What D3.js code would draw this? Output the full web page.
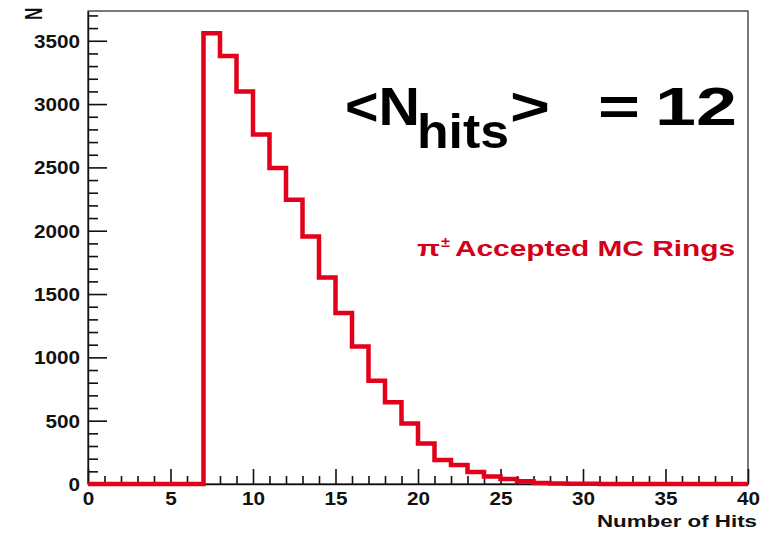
<!DOCTYPE html>
<html>
<head>
<meta charset="utf-8">
<script src="https://cdn.jsdelivr.net/npm/d3@7"></script>
<style>
  body { margin: 0; background: #fff; }
  svg { display: block; }
  text { font-family: "Liberation Sans", Arial, Helvetica, sans-serif; font-weight: bold; }
</style>
</head>
<body>
<svg id="chart" width="765" height="533"></svg>
<script>
// Hit multiplicity of accepted MC rings: one count per unit-wide bin, 0..40
const binStart = 0;
const binWidth = 1;
const counts = [
  0, 0, 0, 0, 0, 0, 0, 3560, 3380, 3100,
  2760, 2495, 2245, 1955, 1630, 1350, 1085, 815, 645, 478,
  320, 190, 150, 95, 60, 40, 22, 8, 4, 2,
  1, 0, 0, 0, 0, 0, 0, 0, 0, 0
];
const xMajorTicks = [0, 5, 10, 15, 20, 25, 30, 35, 40];
const yMajorTicks = [0, 500, 1000, 1500, 2000, 2500, 3000, 3500];
const yMax = 3735;
const meanHits = 12;

const svg = d3.select("#chart");
const frame = { left: 88, right: 748, top: 11, bottom: 484 };

const x = d3.scaleLinear().domain([0, 40]).range([frame.left, frame.right]);
const y = d3.scaleLinear().domain([0, yMax]).range([frame.bottom, frame.top]);

svg.append("rect").attr("width", 765).attr("height", 533).attr("fill", "#fff");

// Frame
svg.append("rect")
  .attr("x", frame.left).attr("y", frame.top)
  .attr("width", frame.right - frame.left).attr("height", frame.bottom - frame.top)
  .attr("fill", "none").attr("stroke", "#222").attr("stroke-width", 1.2);

// Minor tick positions
const xMinor = d3.range(0, 41).filter(v => v % 5 !== 0);
const yMinor = d3.range(0, yMax, 100).filter(v => v % 500 !== 0);

// Y axis: ticks pointing into the frame
const yAxisG = svg.append("g").attr("transform", `translate(${frame.left},0)`);
yAxisG.call(d3.axisLeft(y).tickValues(yMajorTicks).tickFormat(d3.format("d"))
  .tickSize(-19).tickSizeOuter(0).tickPadding(7));
const yMinorG = svg.append("g").attr("transform", `translate(${frame.left},0)`);
yMinorG.call(d3.axisLeft(y).tickValues(yMinor).tickSize(-10).tickSizeOuter(0).tickFormat(""));
yMinorG.select(".domain").remove();

// X axis
const xAxisG = svg.append("g").attr("transform", `translate(0,${frame.bottom})`);
xAxisG.call(d3.axisBottom(x).tickValues(xMajorTicks).tickFormat(d3.format("d"))
  .tickSize(-15).tickSizeOuter(0).tickPadding(8));
const xMinorG = svg.append("g").attr("transform", `translate(0,${frame.bottom})`);
xMinorG.call(d3.axisBottom(x).tickValues(xMinor).tickSize(-8).tickSizeOuter(0).tickFormat(""));
xMinorG.select(".domain").remove();

svg.selectAll(".tick line").attr("stroke", "#111").attr("stroke-width", 1.6);
svg.selectAll(".domain").attr("stroke", "#111").attr("stroke-width", 1.4);
svg.selectAll(".tick text")
  .attr("font-size", 18).attr("fill", "#111")
  .attr("font-family", "Liberation Sans, Arial, sans-serif").attr("font-weight", "bold")
  .attr("transform", "scale(1.15,1)");
yAxisG.selectAll(".tick text").attr("dy", "0.36em");

// Histogram outline
const steps = [];
counts.forEach((c, i) => {
  const lo = binStart + i * binWidth;
  steps.push([lo, c], [lo + binWidth, c]);
});
svg.append("path")
  .datum(steps)
  .attr("fill", "none")
  .attr("stroke", "#e2001a")
  .attr("stroke-width", 4.5)
  .attr("stroke-linejoin", "miter")
  .attr("d", d3.line().x(d => x(d[0])).y(d => y(d[1])));

// Axis titles
svg.append("text")
  .attr("transform", "translate(42,20) scale(1.4,1) rotate(-90)")
  .attr("font-size", 17).attr("fill", "#111")
  .text("N");

svg.append("text")
  .attr("x", 597).attr("y", 527)
  .attr("font-size", 17).attr("fill", "#111")
  .attr("textLength", 160).attr("lengthAdjust", "spacingAndGlyphs")
  .text("Number of Hits");

// Legend entry
const legend = svg.append("g").attr("fill", "#d4001a");
legend.append("text")
  .attr("x", 417).attr("y", 256).attr("font-size", 22)
  .attr("textLength", 23).attr("lengthAdjust", "spacingAndGlyphs")
  .text("π");
legend.append("text")
  .attr("x", 441).attr("y", 247).attr("font-size", 14)
  .attr("textLength", 9).attr("lengthAdjust", "spacingAndGlyphs")
  .text("±");
legend.append("text")
  .attr("x", 455).attr("y", 256).attr("font-size", 22)
  .attr("textLength", 280).attr("lengthAdjust", "spacingAndGlyphs")
  .text("Accepted MC Rings");

// Mean number of hits annotation
const ann = svg.append("g").attr("fill", "#000");
ann.append("text").attr("x", 345).attr("y", 125).attr("font-size", 53)
  .attr("textLength", 75).attr("lengthAdjust", "spacingAndGlyphs").text("<N");
ann.append("text").attr("x", 417).attr("y", 148).attr("font-size", 48)
  .attr("textLength", 92).attr("lengthAdjust", "spacingAndGlyphs").text("hits");
ann.append("text").attr("x", 510).attr("y", 125).attr("font-size", 53)
  .attr("textLength", 40).attr("lengthAdjust", "spacingAndGlyphs").text(">");
ann.append("text").attr("x", 598).attr("y", 125).attr("font-size", 53)
  .attr("textLength", 42).attr("lengthAdjust", "spacingAndGlyphs").text("=");
ann.append("text").attr("x", 655).attr("y", 125).attr("font-size", 53)
  .attr("textLength", 82).attr("lengthAdjust", "spacingAndGlyphs").text(String(meanHits));
</script>
</body>
</html>
